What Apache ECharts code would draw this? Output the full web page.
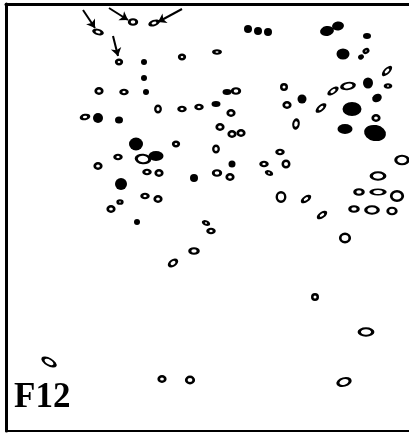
<!DOCTYPE html>
<html>
<head>
<meta charset="utf-8">
<script src="https://cdn.jsdelivr.net/npm/echarts@6/dist/echarts.min.js"></script>
<style>html,body{margin:0;padding:0;background:#fff}#c{width:409px;height:434px}</style>
</head>
<body>
<div id="c"></div>
<script>
// Open (unstained-centre) spots: x, y centre, outer width, outer height, rotation (deg, ccw)
const openX = [98,133,154,119,182,99,124,158,182,199,85,176,217,236,231,220,232,241,284,287,296,321,333,348,366,387,388,376,118,143,98,147,159,145,158,120,111,216,280,264,286,217,230,269,402,378,281,306,359,378,397,322,354,372,392,206,211,345,194,173,49,162,190,315,366,344];
const openY = [32,22,23,62,57,91,92,109,109,107,117,144,52,91,113,127,134,133,87,105,124,108,91,86,51,71,86,118,157,159,166,172,173,196,199,202,209,149,152,164,164,173,177,173,160,176,197,199,192,192,196,215,209,210,211,223,231,238,251,263,362,379,380,297,332,382];
const openW = [10,9,10,7,7,8,8,7,8,8,9,7,8,9,8,8,8,8,7,8,7,11,11,14,6,11,7,8,8,15,8,8,8,8,8,6,8,7,8,8,8,9,8,7,14,15,10,10,10,15,13,10,10,14,10,7,8,11,10,10,15,8,9,7,15,14];
const openH = [6,7,6,6,6,7,6,8,6,6,6,6,5,7,7,7,7,7,7,7,10,6,6,8,5,6,5,7,6,10,7,6,7,6,7,5,7,8,6,6,8,7,7,5,10,9,11,6,7,7,11,6,7,9,8,5,6,10,7,7,8,7,8,7,9,9];
const openRot = [-15,0,20,0,0,0,0,0,0,0,10,0,0,0,0,0,0,0,0,0,-10,40,35,10,30,45,0,0,0,-5,0,0,0,0,0,0,0,0,0,0,0,0,0,-20,0,0,0,35,0,0,0,35,0,0,0,-20,0,0,0,35,-30,0,0,0,0,15];

// Filled (dark) spots
const fillX = [144,144,146,98,119,136,248,258,268,327,338,367,343,361,368,227,302,377,216,352,345,375,156,194,121,137,232];
const fillY = [62,78,92,118,120,144,29,31,32,31,26,36,54,57,83,92,99,98,104,109,129,133,156,178,184,222,164];
const fillW = [6,6,6,10,8,14,8,8,8,14,12,8,13,6,10,9,9,10,9,19,15,22,15,8,12,6,7];
const fillH = [6,6,6,10,7,13,8,8,8,10,9,6,11,5,11,6,9,8,6,14,10,16,10,8,12,6,7];
const fillRot = [0,0,0,0,0,0,0,0,0,10,10,0,0,30,0,0,0,30,0,0,0,-10,0,0,0,0,0];

// Arrows pointing at marked spots: start and end points
const arrowFrom = [[83,10],[109,8],[182,9],[113,36]];
const arrowTo = [[95,28],[128,20],[158,22],[118,56]];

const panelLabel = 'F12';

const stroke = 2.5;
const openData = openX.map((x,i)=>[x, openY[i], openW[i], openH[i], openRot[i]]);
const fillData = fillX.map((x,i)=>[x, fillY[i], fillW[i], fillH[i], fillRot[i]]);
const arrowData = arrowFrom.map((f,i)=>({coords:[f, arrowTo[i]]}));

const chart = echarts.init(document.getElementById('c'), null, {renderer:'canvas'});
chart.setOption({
  animation: false,
  backgroundColor: '#fff',
  title: {
    text: panelLabel, left: 14, top: 380, padding: 0,
    textStyle: {fontFamily: 'Liberation Serif', fontSize: 35, fontWeight: 'bold', color: '#000'}
  },
  grid: {left: 6, right: 0, top: 4, bottom: 3},
  xAxis: [
    {type:'value', min:6, max:409, position:'bottom',
     axisLine:{show:true, onZero:false, lineStyle:{color:'#000', width:2}},
     axisTick:{show:false}, axisLabel:{show:false}, splitLine:{show:false}},
    {type:'value', min:6, max:409, position:'top',
     axisLine:{show:true, onZero:false, lineStyle:{color:'#000', width:3}},
     axisTick:{show:false}, axisLabel:{show:false}, splitLine:{show:false}}
  ],
  yAxis: {type:'value', min:4, max:431, inverse:true,
    axisLine:{show:true, onZero:false, lineStyle:{color:'#000', width:3}},
    axisTick:{show:false}, axisLabel:{show:false}, splitLine:{show:false}},
  series: [
    {type:'scatter', data: fillData, symbol:'circle',
     symbolSize: v => [v[2], v[3]], symbolRotate: v => v[4],
     itemStyle:{color:'#000', opacity:1}, z:2},
    {type:'scatter', data: openData, symbol:'circle',
     symbolSize: v => [Math.max(v[2]+1-stroke,2), Math.max(v[3]+1-stroke,1.5)], symbolRotate: v => v[4],
     itemStyle:{color:'#fff', borderColor:'#000', borderWidth:stroke, opacity:1}, z:3},
    {type:'lines', coordinateSystem:'cartesian2d', data: arrowData,
     symbol:['none','arrow'], symbolSize:8,
     lineStyle:{color:'#000', width:2, opacity:1}, z:4}
  ]
});
</script>
</body>
</html>
